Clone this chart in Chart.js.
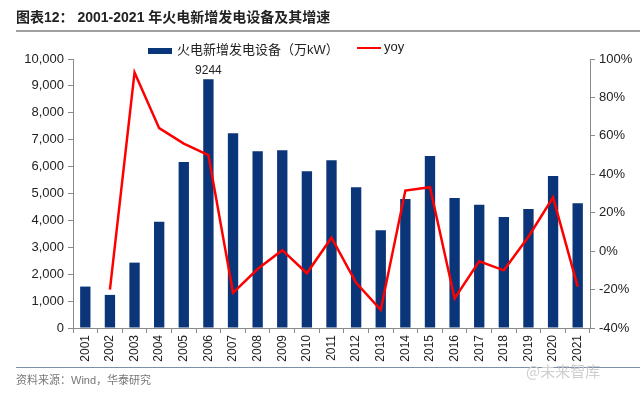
<!DOCTYPE html>
<html>
<head>
<meta charset="utf-8">
<script src="https://cdn.jsdelivr.net/npm/chart.js@4"></script>
<style>
  body { margin: 0; background: #fff; }
  #wrap { position: relative; width: 640px; height: 394px; overflow: hidden; font-family: "Liberation Sans", Arial, sans-serif; }
  #grafico { position: absolute; left: 0; top: 0; }
  .titulo { position: absolute; left: 16px; top: 6px; font-size: 14px; font-weight: bold; color: #222; font-family: "Liberation Sans", "Noto Sans CJK SC", sans-serif; white-space: nowrap; }
  .linha-topo { position: absolute; left: 16px; right: 0; top: 30px; height: 2px; background: #a0a0a0; }
  .linha-base { position: absolute; left: 16px; right: 0; top: 367px; height: 1px; background: #7d8fa8; }
  .fonte { position: absolute; left: 16px; top: 371px; font-size: 11px; color: #777; font-family: "Liberation Sans", "Noto Sans CJK SC", sans-serif; }
  .marca { position: absolute; left: 526px; top: 360px; font-size: 15px; color: #cfcfcf; font-family: "Noto Sans CJK SC", sans-serif; }
  .leg { position: absolute; top: 39px; font-size: 13px; color: #222; font-family: "Liberation Sans", "Noto Sans CJK SC", sans-serif; white-space: nowrap; }
  .caixa { display: inline-block; width: 24px; height: 6px; background: #0a3578; vertical-align: middle; margin-right: 5px; }
  .traco { display: inline-block; width: 24px; height: 2px; background: #ff0000; vertical-align: middle; margin-right: 3px; }
</style>
</head>
<body>
<div id="wrap">
  <canvas id="grafico" width="640" height="394"></canvas>
  <div class="titulo">图表12：&nbsp;2001-2021 年火电新增发电设备及其增速</div>
  <div class="linha-topo"></div>
  <div class="leg" style="left:148px"><span class="caixa"></span>火电新增发电设备（万kW）</div>
  <div class="leg" style="left:357px"><span class="traco"></span>yoy</div>
  <div class="linha-base"></div>
  <div class="fonte">资料来源：Wind，华泰研究</div>
  <div class="marca">@未来智库</div>
</div>
<script>
let ctx = document.getElementById('grafico')

const anos = ['2001','2002','2003','2004','2005','2006','2007','2008','2009','2010',
  '2011','2012','2013','2014','2015','2016','2017','2018','2019','2020','2021']

// 火电新增发电设备（万kW）
const novaCapacidade = [1540, 1230, 2430, 3950, 6170, 9244, 7240, 6570, 6605, 5825,
  6234, 5230, 3631, 4796, 6394, 4833, 4584, 4126, 4424, 5651, 4636]

// yoy (%)
const yoy = [null, -20, 93, 64, 56, 50, -21.7, -9.3, 0.5, -11.5,
  7, -16.5, -30.6, 31.5, 33.3, -24.6, -5.3, -10, 7.5, 28, -18.5]

const rotuloBarra = 5 // só 2006 tem rótulo

Chart.defaults.font.family = '"Liberation Sans", Arial, sans-serif'
Chart.defaults.color = '#222'

const eixoCor = '#8a8a8a'

const rotulo = {
  id: 'rotulo',
  afterDatasetsDraw(chart) {
    const meta = chart.getDatasetMeta(1)
    const bar = meta.data[rotuloBarra]
    const c = chart.ctx
    c.save()
    c.font = '12px "Liberation Sans", Arial, sans-serif'
    c.fillStyle = '#222'
    c.textAlign = 'center'
    c.textBaseline = 'bottom'
    c.fillText(String(novaCapacidade[rotuloBarra]), bar.x, bar.y - 3)
    c.restore()
  }
}

const config = {
  data: {
    labels: anos,
    datasets: [{
      type: 'line',
      label: 'yoy',
      data: yoy,
      yAxisID: 'y1',
      borderColor: '#ff0000',
      borderWidth: 2.5,
      pointRadius: 0,
      tension: 0,
      fill: false,
      order: 0
    }, {
      type: 'bar',
      label: '火电新增发电设备（万kW）',
      data: novaCapacidade,
      yAxisID: 'y',
      backgroundColor: '#0a3578',
      barPercentage: 0.42,
      categoryPercentage: 1,
      order: 1
    }]
  },
  options: {
    responsive: false,
    animation: false,
    layout: { padding: { top: 59, left: 0, right: 0, bottom: 0 } },
    plugins: {
      legend: { display: false },
      tooltip: { enabled: false }
    },
    scales: {
      x: {
        offset: true,
        grid: { drawOnChartArea: false, drawTicks: true, tickLength: 5, color: eixoCor, offset: true },
        border: { color: eixoCor },
        ticks: { minRotation: 90, maxRotation: 90, font: { size: 12 }, padding: 2, color: '#222' },
        afterFit(s) { s.height = 66 }
      },
      y: {
        position: 'left',
        min: 0,
        max: 10000,
        grid: { drawOnChartArea: false, drawTicks: true, tickLength: 5, color: eixoCor },
        border: { color: eixoCor },
        ticks: {
          stepSize: 1000,
          font: { size: 13 },
          padding: 4,
          callback: v => v.toLocaleString('en-US')
        },
        afterFit(s) { s.width = 73 }
      },
      y1: {
        position: 'right',
        min: -40,
        max: 100,
        grid: { drawOnChartArea: false, drawTicks: true, tickLength: 5, color: eixoCor },
        border: { color: eixoCor },
        ticks: {
          stepSize: 20,
          font: { size: 13 },
          padding: 4,
          callback: v => v + '%'
        },
        afterFit(s) { s.width = 50 }
      }
    }
  },
  plugins: [rotulo]
}

const grafico = new Chart(ctx, config)
</script>
</body>
</html>
